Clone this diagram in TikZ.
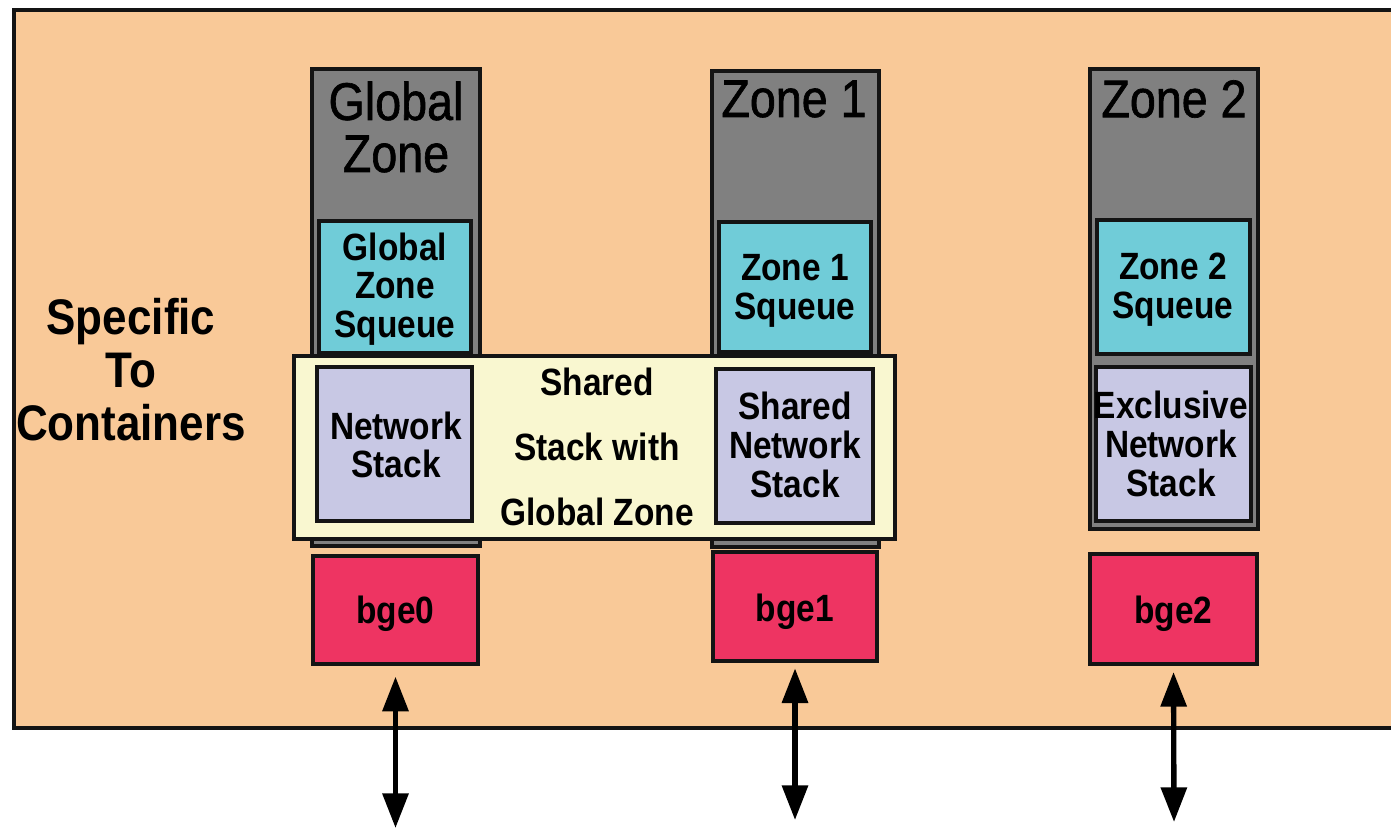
\documentclass[tikz,border=0pt]{standalone}
\usepackage{fontspec}
\setmainfont{Liberation Sans}[FakeStretch=0.88]
\newfontfamily\hdrfont{Liberation Sans}[FakeStretch=0.88,FakeBold=1.2]
\usetikzlibrary{arrows.meta,fit}
\definecolor{peach}{RGB}{249,201,152}
\definecolor{zgray}{RGB}{128,128,128}
\definecolor{sqcyan}{RGB}{112,204,216}
\definecolor{shyellow}{RGB}{249,247,208}
\definecolor{stlav}{RGB}{200,200,228}
\definecolor{nicred}{RGB}{238,52,98}
\definecolor{edge}{RGB}{20,20,20}
\tikzset{
  box/.style={draw=edge, line width=3pt, inner sep=0pt},
  hdr/.style={font=\hdrfont\fontsize{39.75}{39}\selectfont, align=center, inner sep=0pt, text=black},
  lbl/.style={font=\bfseries\fontsize{28.5}{29}\selectfont, align=center, inner sep=0pt, text=black},
  biarrow/.style={line width=4pt, draw=black, {Triangle[length=26pt,width=19pt]}-{Triangle[length=26pt,width=19pt]}}
}
\begin{document}
\begin{tikzpicture}[x=0.75pt,y=-0.75pt]
\useasboundingbox (0,0) rectangle (1391,828);
\clip (0,0) rectangle (1391,828);
\fill[white] (0,0) rectangle (1391,828);
% outer area
\node[box, fill=peach, fit={(14,10)(1420,728)}] (outer) {};
% columns
\node[box, fill=zgray, fit={(312,69)(480,546)}] (gz) {};
\node[box, fill=zgray, fit={(712,71)(879,547)}] (z1) {};
\node[box, fill=zgray, fit={(1090,69)(1258,529)}] (z2) {};
% squeues
\node[box, fill=sqcyan, fit={(319,221)(471,353)}] (gq) {};
\node[box, fill=sqcyan, fit={(719,222)(871,352)}] (z1q) {};
\node[box, fill=sqcyan, fit={(1097,220)(1250,354)}] (z2q) {};
% shared area
\node[box, fill=shyellow, fit={(294,356)(895,539)}] (shared) {};
% stacks
\node[box, fill=stlav, fit={(317,367)(472,521)}] (gns) {};
\node[box, fill=stlav, fit={(716,369)(873,523)}] (sns) {};
\node[box, fill=stlav, fit={(1096,367)(1251,521)}] (ens) {};
% NICs
\node[box, fill=nicred, fit={(313,556)(478,664)}] (b0) {};
\node[box, fill=nicred, fit={(713,552)(877,661)}] (b1) {};
\node[box, fill=nicred, fit={(1090,554)(1257,664)}] (b2) {};
% texts
\node[font=\bfseries\fontsize{37.5}{39.75}\selectfont, align=center, inner sep=0pt] (spec) at (131,370) {Specific\\To\\Containers};
\node[hdr] (tgz) at (396,127) {Global\\Zone};
\node[hdr] (tz1) at (794,99) {Zone 1};
\node[hdr] (tz2) at (1174,99) {Zone 2};
\node[lbl] (tgq) at (395,289) {Global\\Zone\\Squeue};
\node[lbl] (tz1q) at (795,291) {Zone 1\\Squeue};
\node[lbl] (tz2q) at (1173,290) {Zone 2\\Squeue};
\node[lbl] (tgns) at (396,445) {Network\\Stack};
\node[lbl] (tsns) at (795,445) {Shared\\Network\\Stack};
\node[lbl] (tens) at (1171,444) {Exclusive\\Network\\Stack};
\node[lbl, font=\bfseries\fontsize{28.5}{48.75}\selectfont] (tsh) at (597,447) {Shared\\Stack with\\Global Zone};
\node[lbl, font=\bfseries\fontsize{28.5}{29}\selectfont] (tb0) at (395.5,614) {bge0};
\node[lbl, font=\bfseries\fontsize{28.5}{29}\selectfont] (tb1) at (795,612) {bge1};
\node[lbl, font=\bfseries\fontsize{28.5}{29}\selectfont] (tb2) at (1173.5,614) {bge2};
% arrows
\coordinate (a0) at (395.5,828);
\coordinate (a1) at (795,820);
\coordinate (a2) at (1174,822);
\draw[biarrow, shorten <=8pt] (b0.south) -- (a0);
\draw[biarrow, shorten <=4pt] (b1.south) -- (a1);
\draw[biarrow, shorten <=4.5pt] (b2.south) -- (a2);
\end{tikzpicture}
\end{document}
